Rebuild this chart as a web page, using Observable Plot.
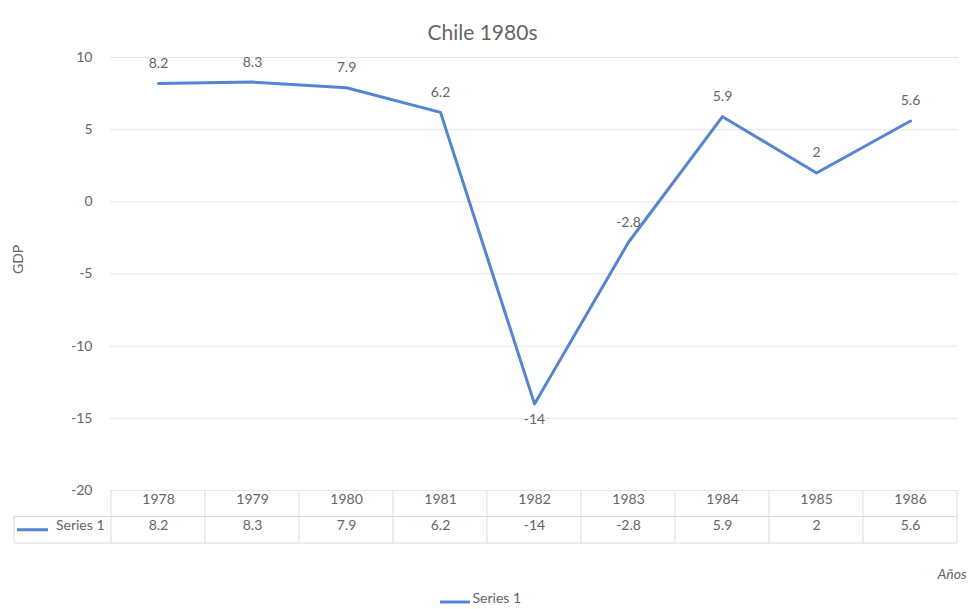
<!DOCTYPE html>
<html>
<head>
<meta charset="utf-8">
<script src="https://cdn.jsdelivr.net/npm/d3@7"></script>
<script src="https://cdn.jsdelivr.net/npm/@observablehq/plot@0.6"></script>
<style>
  html, body { margin: 0; padding: 0; background: #fff; }
  #chart svg { display: block; }
</style>
</head>
<body>
<div id="chart"></div>
<script>
const years = ["1978", "1979", "1980", "1981", "1982", "1983", "1984", "1985", "1986"];
const gdp = [8.2, 8.3, 7.9, 6.2, -14, -2.8, 5.9, 2, 5.6];
const yTicks = [10, 5, 0, -5, -10, -15, -20];
const seriesName = "Series 1";
const titleText = "Chile 1980s";
const yLabel = "GDP";
const xLabel = "Años";

const data = years.map((y, i) => ({year: y, value: gdp[i]}));

const W = 968, H = 609, ML = 110, MR = 10, MT = 57, MB = 119;
const step = (W - ML - MR) / years.length;
const rowH = 26.5;
const font = "Lato, 'Open Sans', sans-serif";
const textColor = "#656565";
const gridColor = "#e6e6e6";
const lineColor = "#5585d0";

// table borders + legend swatches drawn with Plot's x scale
function tableMark(index, scales, values, dims) {
  const g = d3.create("svg:g");
  const top = dims.height - dims.marginBottom;
  const x = scales.x;
  const left = x(years[0]) - step / 2;
  const right = x(years[years.length - 1]) + step / 2;
  const line = (x1, y1, x2, y2) => g.append("line")
    .attr("x1", x1).attr("y1", y1).attr("x2", x2).attr("y2", y2)
    .attr("stroke", "#dcdcdc").attr("stroke-width", 1);
  line(14, top + rowH, right, top + rowH);
  line(14, top + rowH, 14, top + 2 * rowH);
  line(14, top + 2 * rowH, right, top + 2 * rowH);
  years.forEach(yr => line(x(yr) - step / 2, top, x(yr) - step / 2, top + 2 * rowH));
  line(right, top, right, top + 2 * rowH);
  // swatch in table
  g.append("line").attr("x1", 17).attr("x2", 48)
    .attr("y1", top + rowH * 1.5).attr("y2", top + rowH * 1.5)
    .attr("stroke", lineColor).attr("stroke-width", 3);
  // bottom legend swatch
  g.append("line").attr("x1", 440).attr("x2", 470)
    .attr("y1", top + 112).attr("y2", top + 112)
    .attr("stroke", lineColor).attr("stroke-width", 3);
  return g.node();
}

const fmt = d => String(d);

const chart = Plot.plot({
  width: W,
  height: H,
  marginLeft: ML,
  marginRight: MR,
  marginTop: MT,
  marginBottom: MB,
  style: {fontFamily: font, fontSize: "14px", color: textColor, background: "#fff"},
  x: {type: "point", domain: years, padding: 0.5, axis: null},
  y: {domain: [-20, 10], ticks: yTicks, axis: null},
  marks: [
    Plot.gridY(yTicks, {stroke: gridColor, strokeOpacity: 1}),
    Plot.axisY(yTicks, {tickSize: 0, tickPadding: 18, fontSize: 14, fill: textColor, label: null, tickFormat: fmt}),
    Plot.line(data, {x: "year", y: "value", stroke: lineColor, strokeWidth: 3}),
    Plot.text(data.filter(d => d.value > -10), {x: "year", y: "value", text: d => fmt(d.value),
      dy: -20, fill: textColor, fontSize: 14}),
    Plot.text(data.filter(d => d.value <= -10), {x: "year", y: "value", text: d => fmt(d.value),
      dy: 16, fill: textColor, fontSize: 14}),
    // table text
    Plot.text(years, {x: d => d, text: d => d, frameAnchor: "bottom", dy: rowH / 2, fill: textColor, fontSize: 14}),
    Plot.text(data, {x: "year", text: d => fmt(d.value), frameAnchor: "bottom", dy: rowH * 1.5, fill: textColor, fontSize: 14}),
    Plot.text([seriesName], {frameAnchor: "bottom-left", text: d => d, dx: -6, dy: rowH * 1.5, textAnchor: "end", fill: textColor, fontSize: 14}),
    tableMark,
    // titles
    Plot.text([titleText], {frameAnchor: "top", text: d => d, dx: -(ML - MR) / 2 - 2, dy: -32, fontSize: 21, fill: textColor}),
    Plot.text([yLabel], {frameAnchor: "left", text: d => d, dx: -92, rotate: -90, fontSize: 14, fill: textColor}),
    Plot.text([xLabel], {frameAnchor: "bottom-right", text: d => d, dx: 8, dy: 88, textAnchor: "end", fontStyle: "italic", fontSize: 14, fill: textColor}),
    Plot.text([seriesName], {frameAnchor: "bottom", text: d => d, dx: -62, dy: 112, textAnchor: "start", fontSize: 14, fill: textColor})
  ]
});

document.getElementById("chart").appendChild(chart);
</script>
</body>
</html>
